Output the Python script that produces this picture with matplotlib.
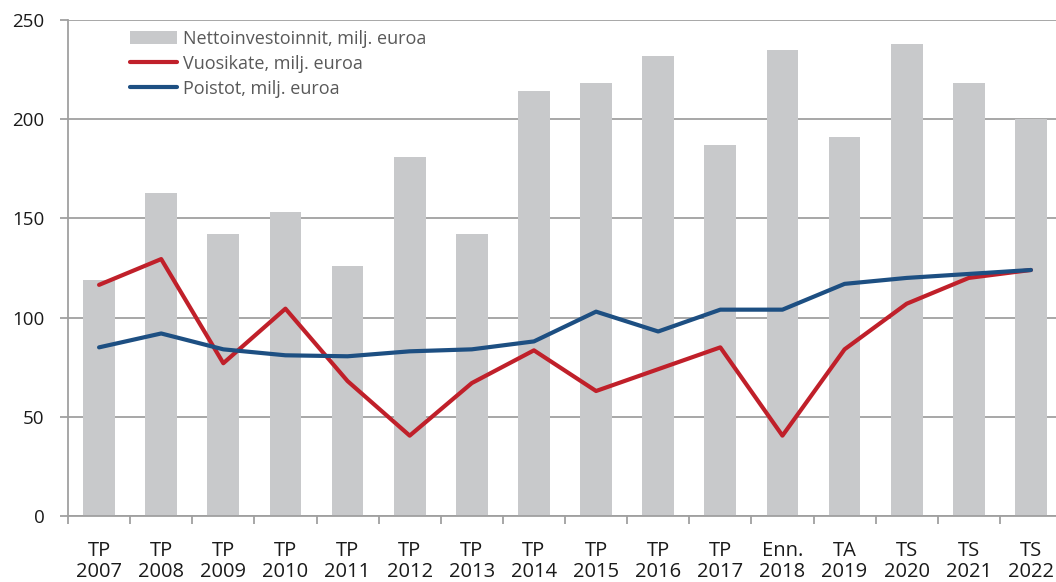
import numpy as np
import matplotlib.pyplot as plt

plt.rcParams['font.family'] = ['Open Sans', 'DejaVu Sans']

categories = ["TP\n2007", "TP\n2008", "TP\n2009", "TP\n2010", "TP\n2011", "TP\n2012",
              "TP\n2013", "TP\n2014", "TP\n2015", "TP\n2016", "TP\n2017", "Enn.\n2018",
              "TA\n2019", "TS\n2020", "TS\n2021", "TS\n2022"]
netto = [119, 163, 142, 153, 126, 181, 142, 214, 218, 232, 187, 235, 191, 238, 218, 200]
vuosikate = [116.5, 129.5, 77, 104.5, 68, 40.5, 67, 83.5, 63, 74, 85, 40.5, 84, 107, 120, 124]
poistot = [85, 92, 84, 81, 80.5, 83, 84, 88, 103, 93, 104, 104, 117, 120, 122, 124]

grey = '#C8C9CB'
red = '#C0202A'
blue = '#1D4F82'
axis_col = '#A0A0A0'

fig = plt.figure(figsize=(10.56, 5.82), dpi=100)
ax = fig.add_axes([68 / 1056, 66 / 582, 994 / 1056, 496 / 582])

x = np.arange(len(categories))
b = ax.bar(x, netto, width=0.51, color=grey, zorder=2, label='Nettoinvestoinnit, milj. euroa')
l1, = ax.plot(x, vuosikate, color=red, lw=3, zorder=3, solid_capstyle='round',
              label='Vuosikate, milj. euroa')
l2, = ax.plot(x, poistot, color=blue, lw=3, zorder=4, solid_capstyle='round',
              label='Poistot, milj. euroa')

ax.set_xlim(-0.5, len(categories) - 0.5)
ax.set_ylim(0, 250)
ax.set_yticks([0, 50, 100, 150, 200, 250])
ax.yaxis.grid(True, color=axis_col, lw=1.3, zorder=0)
ax.set_axisbelow(True)

ax.set_xticks(x)
ax.set_xticklabels(categories, fontsize=14.5, color='#1a1a1a', linespacing=1.05)
ax.set_xticks(np.arange(-0.5, len(categories), 1), minor=True)
ax.tick_params(axis='x', which='major', length=0, pad=18)
ax.tick_params(axis='x', which='minor', length=6, color=axis_col, width=1.3)
ax.tick_params(axis='y', length=6, color=axis_col, width=1.3, labelsize=13.5,
               labelcolor='#1a1a1a', pad=11)

for s in ['top', 'right']:
    ax.spines[s].set_visible(False)
for s in ['left', 'bottom']:
    ax.spines[s].set_color(axis_col)
    ax.spines[s].set_linewidth(1.3)

leg = ax.legend([b, l1, l2], [b.get_label(), l1.get_label(), l2.get_label()],
                loc='upper left', bbox_to_anchor=(62 / 994, 0.98), frameon=False,
                fontsize=13, handlelength=2.6, handletextpad=0.35, labelspacing=0.38,
                borderaxespad=0, borderpad=0)
for t in leg.get_texts():
    t.set_color('#595959')

fig.savefig('out.png', dpi=100)
